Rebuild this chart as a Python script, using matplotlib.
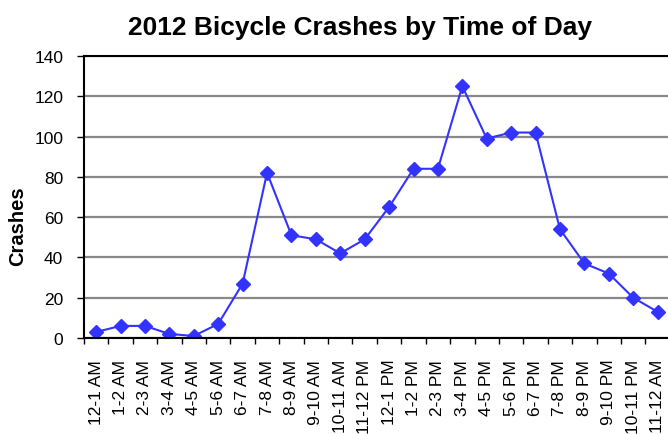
import matplotlib.pyplot as plt
import numpy as np

plt.rcParams['font.family'] = ['Liberation Sans', 'DejaVu Sans']

hours = ['12-1 AM', '1-2 AM', '2-3 AM', '3-4 AM', '4-5 AM', '5-6 AM', '6-7 AM',
         '7-8 AM', '8-9 AM', '9-10 AM', '10-11 AM', '11-12 PM', '12-1 PM',
         '1-2 PM', '2-3 PM', '3-4 PM', '4-5 PM', '5-6 PM', '6-7 PM', '7-8 PM',
         '8-9 PM', '9-10 PM', '10-11 PM', '11-12 AM']
crashes = [3, 6, 6, 2, 1, 7, 27, 82, 51, 49, 42, 49, 65, 84, 84, 125, 99,
           102, 102, 54, 37, 32, 20, 13]

fig = plt.figure(figsize=(6.68, 4.35), dpi=100)
ax = fig.add_axes([0.1257, 0.2207, 0.877, 0.6483])

x = np.arange(len(hours)) + 0.5
ax.plot(x, crashes, color='#3333ff', lw=1.5, marker='D', markersize=7)

ax.set_xlim(0, len(hours))
ax.set_ylim(0, 140)
ax.set_yticks(range(0, 141, 20))
ax.yaxis.grid(True, color='#888888', lw=1.6)
ax.set_axisbelow(True)

# tick marks between categories, labels at centres
ax.set_xticks(np.arange(0, len(hours) + 1), labels=[])
ax.set_xticks(x, labels=hours, minor=True, rotation=90)
ax.tick_params(axis='x', which='major', length=4.5, width=1, direction='out')
ax.tick_params(axis='x', which='minor', length=0, labelsize=12.5, pad=15)
ax.tick_params(axis='y', length=5, width=1, labelsize=12.5, pad=10)

for s in ['left', 'bottom', 'top']:
    ax.spines[s].set_linewidth(1.5)
ax.spines['right'].set_visible(False)

fig.text(0.027, 1 - 226 / 435, 'Crashes', rotation=90, ha='center',
         va='center', fontsize=14.5, fontweight='bold')
fig.text(0.539, 1 - 35 / 435, '2012 Bicycle Crashes by Time of Day',
         ha='center', va='baseline', fontsize=19, fontweight='bold')

fig.savefig('out.png', dpi=100)
